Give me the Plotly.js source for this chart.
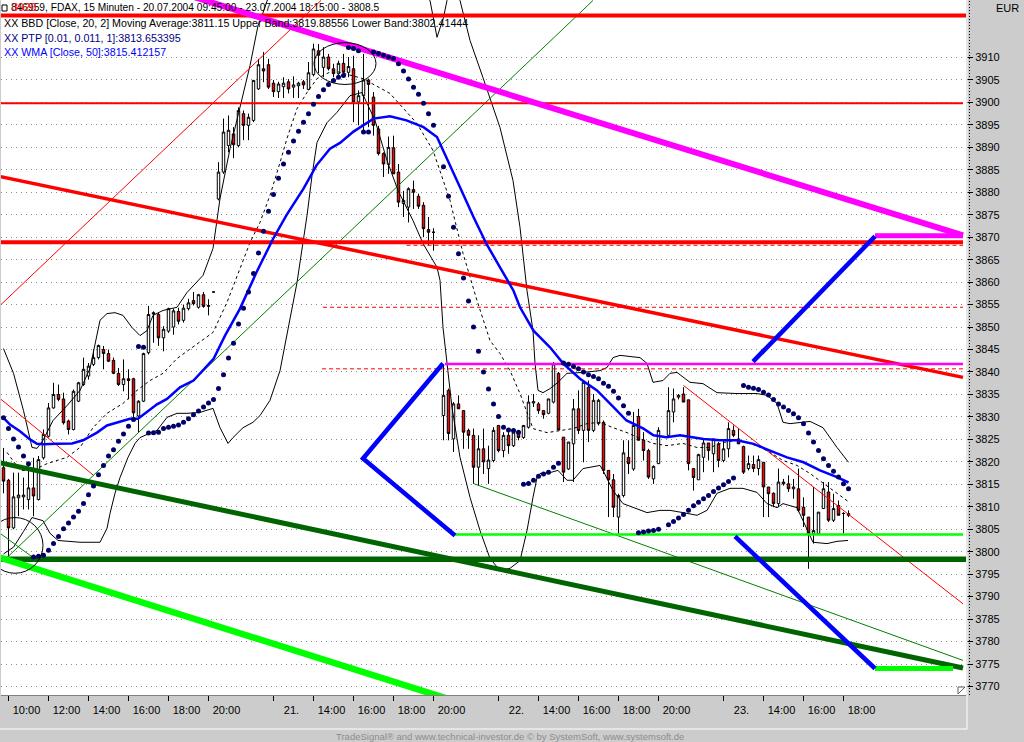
<!DOCTYPE html>
<html><head><meta charset="utf-8">
<script src="https://cdn.plot.ly/plotly-3.0.1.min.js"></script>
<style>html,body{margin:0;padding:0;background:#cccccc;overflow:hidden}#chart{width:1024px;height:742px}</style>
</head><body><div id="chart"></div>
<script>
// ---- OHLC (15-minute bars, index 0 = 20.07.2004 09:45) ----
const openP = [
3818.7,3815.9,3805.3,3812.0,3812.2,3811.6,3814.2,3811.6,3820.9,3825.7,
3832.0,3835.0,3834.0,3829.1,3827.2,3833.5,3837.2,3839.1,3841.7,3843.2,
3845.0,3844.1,3842.6,3839.7,3837.2,3838.5,3838.5,3830.2,3833.5,3844.3,
3853.2,3852.8,3847.6,3849.1,3850.0,3853.5,3851.5,3854.1,3855.9,3854.4,
3857.2,3854.6,3857.8,3878.5,3884.5,3890.4,3893.0,3890.4,3897.5,3894.9,
3896.0,3903.0,3907.5,3908.4,3904.3,3902.4,3903.5,3904.6,3903.4,3903.7,
3904.6,3902.9,3906.2,3911.5,3907.8,3910.1,3907.5,3906.4,3908.7,3906.7,
3907.5,3900.1,3901.5,3905.0,3901.2,3894.1,3888.6,3886.2,3889.9,3884.5,
3877.5,3876.7,3880.6,3879.1,3877.1,3871.7,3871.1,null,3830.3,3835.9,
3825.1,3832.9,3831.4,3827.0,3825.9,3818.8,3822.9,3818.5,3820.3,3828.1,
3822.5,3825.9,3823.6,3826.6,3825.4,3827.7,3833.1,3832.9,3831.4,3830.8,
3833.3,3839.7,3825.5,3818.4,3824.0,3831.8,3827.0,3836.6,3827.0,3828.5,
3828.8,3818.1,3816.0,3807.7,3812.5,3821.0,3818.4,3830.1,3824.8,3822.5,
3816.2,3819.6,null,3825.9,3831.1,3834.4,3835.1,3833.8,3818.5,3816.0,
3821.0,3824.2,3821.8,3824.0,3820.3,3822.9,3827.0,3825.1,3823.4,3818.5,
3819.4,3818.5,3819.9,3814.4,3813.0,3810.7,3815.5,3815.1,3814.0,3814.0,
3809.9,3807.7,3804.0,3804.0,3809.6,3813.3,3807.0,3810.3,3808.5,3808.1];
const highP = [
3823.1,3816.2,3817.6,3817.6,3816.5,3819.0,3820.9,3821.3,3827.2,3833.1,
3837.6,3837.2,3835.4,3829.4,3836.1,3837.8,3843.2,3842.0,3845.0,3846.1,
3845.8,3845.0,3843.2,3840.9,3842.8,3840.6,3838.7,3833.7,3844.3,3854.7,
3853.5,3853.2,3850.2,3854.3,3854.1,3854.3,3855.0,3856.3,3857.8,3857.4,
3857.8,3856.2,3857.8,3886.7,3896.4,3897.1,3894.5,3898.9,3898.2,3897.5,
3904.9,3909.7,3911.2,3909.7,3905.0,3904.6,3905.6,3905.2,3905.8,3904.6,
3905.0,3909.0,3913.1,3913.0,3912.3,3910.8,3908.6,3909.3,3910.8,3910.1,
3910.4,3902.7,3910.8,3905.3,3902.3,3894.8,3888.9,3892.4,3892.6,3886.3,
3880.3,3881.1,3882.6,3879.7,3877.8,3874.5,3872.0,null,3841.5,3836.3,
3833.3,3834.8,3831.4,3827.4,3827.4,3825.9,3827.4,3823.6,3827.7,3828.1,
3826.6,3827.0,3827.4,3827.0,3828.1,3834.8,3835.1,3833.3,3831.4,3834.0,
3842.2,3840.0,3825.5,3824.4,3834.0,3835.9,3838.1,3838.1,3835.1,3834.0,
3829.2,3818.1,3817.3,3812.9,3824.8,3824.8,3831.1,3831.8,3826.6,3822.9,
3819.2,3827.7,null,3836.6,3836.3,3835.1,3836.6,3833.8,3818.5,3821.8,
3825.1,3824.2,3825.1,3824.4,3824.8,3828.8,3828.1,3827.4,3823.6,3821.4,
3821.4,3821.4,3819.9,3814.4,3813.2,3818.5,3816.2,3817.0,3816.2,3818.5,
3812.1,3807.7,3814.4,3808.8,3815.5,3815.5,3812.9,3811.4,3808.8,3809.2];
const lowP = [
3813.0,3799.0,3805.0,3807.9,3809.4,3809.4,3807.9,3811.4,3820.5,3825.4,
3831.8,3833.5,3828.3,3826.1,3827.0,3833.3,3836.9,3838.3,3841.3,3842.8,
3840.6,3842.2,3839.5,3836.9,3835.7,3833.9,3829.8,3826.5,3833.3,3843.9,
3846.5,3845.8,3844.6,3848.7,3848.3,3850.6,3851.0,3853.7,3854.8,3854.1,
3854.3,3852.6,3857.8,3878.2,3884.1,3888.9,3887.6,3890.0,3891.6,3891.6,
3895.6,3902.8,3904.5,3903.0,3901.2,3901.0,3901.0,3902.0,3901.0,3901.0,
3903.0,3902.7,3905.8,3906.5,3905.6,3907.1,3905.6,3905.6,3905.6,3905.6,
3895.6,3894.9,3893.0,3894.5,3892.6,3888.2,3883.4,3884.1,3884.1,3876.7,
3874.5,3873.3,3876.3,3876.3,3870.0,3868.2,3867.0,null,3824.8,3824.8,
3822.2,3831.8,3822.9,3822.9,3815.1,3814.7,3817.3,3815.1,3819.9,3822.1,
3821.0,3821.8,3823.3,3824.8,3825.1,3827.4,3832.2,3830.7,3829.6,3830.6,
3833.0,3827.1,3815.5,3818.2,3815.5,3826.2,3819.9,3824.4,3826.6,3828.1,
3817.3,3807.7,3807.7,3804.0,3812.1,3817.3,3818.0,3824.8,3820.3,3816.2,
3815.1,3819.5,null,3825.8,3828.8,3833.9,3833.3,3818.1,3813.6,3816.0,
3817.7,3820.3,3817.7,3818.8,3819.9,3821.0,3825.5,3824.0,3817.3,3818.1,
3817.7,3817.0,3807.7,3807.7,3809.9,3809.9,3814.7,3813.3,3811.8,3808.8,
3805.5,3796.2,3801.8,3804.0,3809.6,3806.6,3806.6,3808.1,3804.0,3807.7];
const closeP = [
3815.7,3805.3,3812.2,3812.6,3812.6,3814.2,3812.4,3820.5,3826.1,3832.0,
3835.0,3833.9,3828.7,3827.2,3835.7,3837.6,3840.6,3841.3,3843.2,3845.9,
3844.1,3842.4,3839.7,3837.2,3838.5,3838.1,3830.9,3833.5,3844.1,3852.8,
3852.9,3847.6,3849.5,3854.1,3853.6,3851.3,3854.2,3855.4,3855.2,3857.2,
3854.6,3854.8,3857.8,3884.5,3893.4,3893.8,3890.6,3898.2,3894.9,3896.7,
3904.9,3908.4,3907.0,3903.4,3902.4,3904.1,3904.3,3903.0,3903.9,3904.3,
3903.9,3906.6,3911.9,3910.5,3910.1,3907.5,3906.4,3908.7,3906.7,3908.0,
3900.1,3901.5,3905.0,3904.0,3894.9,3888.6,3886.3,3890.0,3884.1,3877.8,
3878.2,3880.8,3880.0,3876.9,3871.9,3871.1,3871.1,null,3834.8,3826.3,
3832.9,3831.8,3826.6,3825.9,3818.8,3822.9,3820.0,3820.4,3827.0,3822.5,
3825.9,3823.6,3826.6,3825.4,3828.1,3833.3,3833.4,3831.4,3830.5,3834.0,
3841.8,3827.1,3817.7,3824.4,3831.8,3827.0,3837.7,3827.0,3833.7,3833.7,
3818.1,3816.0,3809.9,3812.5,3822.0,3819.6,3828.1,3824.8,3822.5,3816.6,
3819.0,3827.0,null,3831.4,3834.0,3834.8,3833.3,3819.6,3816.5,3821.6,
3824.2,3822.5,3825.1,3820.3,3822.9,3827.4,3825.9,3824.0,3817.7,3819.6,
3818.5,3820.5,3814.4,3812.9,3810.7,3815.5,3815.1,3814.0,3814.4,3809.2,
3808.1,3804.0,3804.7,3808.8,3814.0,3807.0,3809.6,3808.1,3808.5,3808.5];

// ---- Parabolic SAR (PTP) per bar ----
const sarP = [
3829.8,3827.4,3825.1,3823.3,3821.3,3819.6,3798.8,3799.0,3799.2,3800.3,
3801.8,3803.4,3805.1,3806.4,3807.7,3809.0,3810.7,3812.7,3814.6,3817.1,
3819.2,3821.3,3822.7,3824.6,3826.2,3827.9,3829.4,3845.7,3845.5,3826.4,
3826.5,3826.6,3827.4,3827.7,3827.9,3828.2,3828.8,3829.6,3830.5,3831.3,
3832.2,3833.1,3833.9,3836.3,3839.4,3843.1,3846.4,3850.7,3854.2,3857.8,
3861.9,3866.5,3871.3,3875.8,3879.5,3883.1,3886.3,3888.9,3891.4,3893.6,
3895.6,3897.5,3899.6,3901.3,3902.8,3904.0,3904.9,3905.6,3906.0,3912.2,
3912.0,3911.5,3893.4,3893.4,3911.2,3910.9,3910.5,3910.1,3909.8,3908.6,
3907.0,3905.2,3903.4,3901.8,3899.8,3897.5,3894.9,null,3885.7,3879.1,
3872.2,3866.3,3860.9,3855.8,3850.0,3844.6,3840.0,3836.2,3832.9,3830.1,
3827.7,3827.1,3827.0,3826.6,3815.0,3815.2,3815.9,3816.8,3817.3,3817.7,
3818.8,3819.7,3842.0,3841.7,3841.2,3840.7,3840.0,3839.4,3839.0,3838.5,
3837.5,3836.8,3835.7,3834.2,3832.5,3830.8,null,3804.2,3804.4,3804.6,
3804.7,3805.0,null,3806.0,3806.7,3807.5,3808.3,3809.2,3810.2,3811.0,
3811.8,3812.5,3813.4,3814.2,3814.9,3815.6,3816.4,null,3837.0,3836.6,
3836.4,3836.1,3835.5,3834.9,3833.9,3832.9,3832.2,3831.4,3830.7,3829.8,
3828.5,3826.4,3824.4,3822.5,3820.7,3819.2,3817.9,3816.6,3815.1,3814.0];

// ---- Bollinger bands (read at bar positions) ----
const bbUpX = [0,2,4,5.7,6.7,7.9,9.9,12.7,15.3,17.3,19.3,20.7,22.3,23.9,25.7,27.3,28.7,29.9,31.9,34.7,
36.7,39.9,41.9,43.3,45.3,47.3,49.3,50.9,51.7,55,60,65,70,75,80,84,85.3,86.7,88,88.7,
90,91.3,93.3,95.9,99.3,101.9,103.3,104.7,105.9,106.3,106.9,107.9,109.3,110.9,112.7,115.9,119.3,120.7,121.9,123.3,
127.3,128.7,129.9,131.9,133.3,134.7,135.9,137.3,139.9,142.7,146.7,150.7,152.7,154.7,155.9,157.3,161.3,163.9,166.7,169];
const bbUpY = [3845.2,3839.7,3831.4,3823.2,3823.0,3824.8,3829.2,3832.5,3835.9,3840.8,3851.5,3853.0,3853.2,3852.6,3849.9,3848.1,3849.2,3852.6,3853.7,3854.4,
3857.7,3861.5,3867.5,3878.6,3889.7,3899.3,3908.2,3917.1,3919.3,3930,3940,3945,3940,3935,3928,3924,3922.7,3914.5,3918.9,3922.7,
3926,3922.7,3913.8,3905.5,3894.4,3882.6,3872.2,3858.1,3849.2,3841.9,3835.9,3835.4,3836.3,3837.7,3839.7,3839.9,3840.3,3841.0,3843.2,3843.7,
3843.2,3841.9,3837.7,3838.1,3839.7,3839.9,3838.8,3837.7,3837.4,3835.4,3835.2,3835.2,3834.8,3833.0,3828.8,3828.5,3829.0,3827.6,3823.2,3819.9];
const bbLoX = [0,2,4,5.7,7.9,9.3,10.9,15.3,19.3,20.7,21.3,22.3,23.3,24.9,26.3,27.3,28.7,30.7,32.7,34.7,
36.7,39.3,41.9,43.3,44.9,45.9,47.9,49.9,51.3,53.3,55.3,56.7,58.7,60.7,61.7,62.7,64.7,66.7,69.3,71.7,
74.3,76.7,78.9,81.9,83.9,86.7,87.3,87.9,88.7,89.7,91.3,93.3,95.3,97.3,99.3,101.3,103.3,104.7,105.9,106.7,
107.3,109.3,110.9,112.7,113.9,115.9,119.3,119.9,120.7,121.9,123.9,125.9,128.7,131.3,133.3,135.9,138.7,140.7,142.7,145.3,
147.9,150.7,152.7,154.7,155.9,158.7,161.3,161.9,164.7,166.7,168.9];
const bbLoY = [3799.5,3801.0,3804.5,3807.6,3806.9,3804.1,3802.5,3802.1,3802.1,3805.2,3808.5,3813.0,3816.5,3821.0,3824.1,3825.4,3826.1,3827.0,3829.9,3830.8,
3830.8,3831.0,3831.9,3827.6,3824.1,3825.4,3827.6,3828.8,3830.3,3833.7,3840.3,3848.1,3859.9,3874.8,3883.7,3891.1,3895.5,3897.8,3901.5,3902.2,
3896.0,3887.1,3880.4,3873.7,3868.6,3863.3,3860.4,3849.9,3842.6,3832.1,3821.0,3812.1,3804.7,3798.5,3795.8,3796.3,3798.0,3804.7,3812.1,3816.5,
3817.4,3817.6,3818.1,3815.9,3815.9,3818.5,3819.2,3818.1,3816.3,3813.6,3810.7,3809.8,3808.7,3809.2,3809.2,3808.7,3808.1,3809.2,3813.0,3814.1,
3814.1,3813.2,3810.7,3809.8,3810.7,3809.8,3803.6,3802.1,3801.8,3802.3,3802.5];
const bbMidX = [0.7,3.3,5.9,8.7,12.7,15.3,17.9,20.7,23.9,26.7,29.3,31.9,34.7,41.9,44.7,47.3,49.3,51.3,53.3,55.3,
56.7,58.7,60.7,62.7,65.9,71.9,77.3,82.7,85.9,89.3,91.9,94.7,97.3,99.3,101.3,103.3,104.7,105.9,108.7,111.3,
113.9,116.7,119.3,121.9,124.7,127.3,129.9,132.7,135.9,138.7,141.3,143.9,146.7,150.7,153.3,155.9,158.7,161.3,163.9,166.7,168.9];
const bbMidY = [3822.1,3818.1,3818.1,3819.6,3821.0,3823.2,3827.6,3830.8,3833.0,3835.9,3838.1,3839.7,3843.0,3848.8,3855.5,3863.0,3868.8,3873.3,3879.3,3886.6,
3892.0,3898.6,3902.2,3905.3,3907.1,3905.3,3902.0,3895.3,3889.3,3878.2,3866.4,3855.9,3847.0,3844.1,3840.3,3835.2,3830.8,3827.4,3826.5,3827.0,
3827.4,3828.5,3828.8,3827.6,3826.5,3825.2,3824.1,3823.6,3824.1,3823.2,3823.2,3824.3,3824.8,3823.6,3822.1,3820.3,3819.2,3817.4,3815.2,3813.0,3811.2];

// ---- WMA(50) ----
const wmaX = [0,1.3,3.3,5.3,6.7,7.9,10.7,13.7,15.9,18.7,20.7,22.7,25.3,26.9,28.7,30.7,32.7,35.3,38,42,
44.3,47.3,50.6,53.9,56.6,60,62.6,65.3,67.3,70,74,77.3,80.6,84,86.7,88.6,91.3,94,96.6,99.3,
102,103.3,106,109.3,112,115.3,118.7,122,124.6,128,130,132.6,135.3,140,143.3,146.7,150,153.3,156.7,160,163.3,166.7,169];
const wmaY = [3829.8,3828.3,3826.8,3825.0,3824.0,3823.9,3824.0,3824.1,3824.8,3826.5,3828.1,3828.8,3829.6,3829.6,3831.1,3832.8,3834.0,3836.6,3838.1,3842.9,
3848.1,3854.1,3862.2,3869.6,3874.9,3880.8,3886.0,3889.7,3891.0,3893.5,3896.4,3896.9,3896.0,3894.5,3892.3,3887.8,3881.1,3874.5,3868.5,3863.3,
3858.1,3854.4,3849.2,3845.5,3841.8,3838.5,3835.9,3832.2,3829.2,3827.4,3825.9,3825.5,3825.9,3825.1,3824.8,3824.8,3824.0,3822.5,3821.0,3819.9,3818.1,3816.6,3815.4];

// ---- Hand-drawn lines (bar index, price) ----
const redTopX=[-1,194], redTopY=[3919.35,3919.35];
const red3900X=[-1,191.9], red3900Y=[3899.8,3899.8];
const red3869X=[-1,191.9], red3869Y=[3868.9,3868.9];
const redDiagX=[-0.7,191.9], redDiagY=[3883.5,3838.8];
const redThinUpX=[-0.7,63.5], redThinUpY=[3854.8,3922.7];
const redThinDnLX=[-0.7,18], redThinDnLY=[3834.1,3817.0];
const redThinDnRX=[136,191.9], redThinDnRY=[3837.0,3788.4];
const redDash1X=[80.6,191.9], redDash1Y=[3868.2,3868.2];
const redDash2X=[63.9,191.9], redDash2Y=[3854.4,3854.4];
const redDash3X=[63.7,191.9], redDash3Y=[3840.7,3840.7];
const magDiagX=[38,191.9], magDiagY=[3923.5,3870.4];
const magShortX=[174.3,191.9], magShortY=[3870.3,3870.3];
const magThinX=[88.3,191.9], magThinY=[3841.8,3841.8];
const blueAX=[90.3,71.9,87.9], blueAY=[3803.6,3820.75,3841.9];
const blueBX=[149.9,174.3], blueBY=[3842.3,3870.2];
const blueCX=[146.3,174.3], blueCY=[3803.4,3774.0];
const dgHorX=[-1,194], dgHorY=[3798.3,3798.3];
const dgDiagX=[-0.7,191.9], dgDiagY=[3819.8,3774.1];
const lgDiagX=[-0.7,89.3], lgDiagY=[3798.7,3767.1];
const lgThinX=[90.3,191.9], lgThinY=[3803.8,3803.8];
const lgShortX=[174.3,189.9], lgShortY=[3774.0,3774.0];
const gThinUpX=[0.7,117.9], gThinUpY=[3798.7,3922.7];
const gThinDnX=[93.9,191.9], gThinDnY=[3815.2,3775.8];
const gThinLX=[-0.7,5.9], gThinLY=[3804.1,3798.7];
const topEllipse=[62.1,74.5,3904.0,3913.3];
const leftEllipse=[-3.3,7.9,3795.2,3807.6];

// ---- axis labels ----
const xTickVals=[1,9,17,25,33,41,54,62,70,78,86,99,107,115,123,131,144,152,160,168];
const xTickText=['10:00','12:00','14:00','16:00','18:00','20:00','21.','14:00','16:00','18:00','20:00','22.','14:00','16:00','18:00','20:00','23.','14:00','16:00','18:00'];
const yTickVals=[3770,3775,3780,3785,3790,3795,3800,3805,3810,3815,3820,3825,3830,3835,3840,3845,3850,3855,3860,3865,3870,3875,3880,3885,3890,3895,3900,3905,3910];

const barIdx = openP.map((_, i) => i);
const F = 'Liberation Sans, Arial, sans-serif';

function ln(x, y, color, width, dash) {
  return {type:'scatter', mode:'lines', x:x, y:y, hoverinfo:'skip',
    line:{color:color, width:width, dash:dash||'solid'}};
}

const traces = [
  ln(bbUpX, bbUpY, '#000000', 1),
  ln(bbLoX, bbLoY, '#000000', 1),
  ln(bbMidX, bbMidY, '#000000', 1, '3px,3px'),
  {type:'candlestick', x:barIdx, open:openP, high:highP, low:lowP, close:closeP,
   increasing:{line:{color:'#000000', width:1}, fillcolor:'#ffffff'},
   decreasing:{line:{color:'#000000', width:1}, fillcolor:'#ff0000'},
   whiskerwidth:0, hoverinfo:'skip'},
  ln(redThinUpX, redThinUpY, '#ff0000', 1),
  ln(redThinDnLX, redThinDnLY, '#ff0000', 1),
  ln(redThinDnRX, redThinDnRY, '#ff0000', 1),
  ln(gThinUpX, gThinUpY, '#008000', 1),
  ln(gThinDnX, gThinDnY, '#008000', 1),
  ln(gThinLX, gThinLY, '#008000', 1),
  ln(redDash1X, redDash1Y, '#ff0000', 1, '4px,3px'),
  ln(redDash2X, redDash2Y, '#ff0000', 1, '4px,3px'),
  ln(redDash3X, redDash3Y, '#ff0000', 1, '4px,3px'),
  ln(redTopX, redTopY, '#ff0000', 4),
  ln(red3900X, red3900Y, '#ff0000', 2),
  ln(red3869X, red3869Y, '#ff0000', 4),
  ln(redDiagX, redDiagY, '#ff0000', 3.5),
  ln(magThinX, magThinY, '#ff00ff', 2.5),
  ln(magDiagX, magDiagY, '#ff00ff', 6),
  ln(magShortX, magShortY, '#ff00ff', 5),
  ln(dgHorX, dgHorY, '#006400', 5.5),
  ln(dgDiagX, dgDiagY, '#006400', 5),
  ln(lgDiagX, lgDiagY, '#00ff00', 6.5),
  ln(lgThinX, lgThinY, '#00ff00', 2.5),
  ln(lgShortX, lgShortY, '#00ff00', 5),
  ln(blueAX, blueAY, '#0000ff', 4.5),
  ln(blueBX, blueBY, '#0000ff', 4.5),
  ln(blueCX, blueCY, '#0000ff', 4.5),
  ln(wmaX, wmaY, '#0000ff', 2.5),
  {type:'scatter', mode:'markers', x:barIdx, y:sarP, hoverinfo:'skip',
   marker:{color:'#000066', size:5, line:{width:0}}}
];

const xp = px => (px - 1) / 965;
const yp = py => 1 - py / 695;

const layout = {
  width:1024, height:742,
  margin:{l:1, r:58, t:0, b:47, pad:0},
  paper_bgcolor:'#cccccc', plot_bgcolor:'#ffffff',
  showlegend:false, dragmode:false,
  font:{family:F, size:11, color:'#000000'},
  xaxis:{range:[-0.5,192.5], tickmode:'array', tickvals:xTickVals, ticktext:xTickText,
    ticks:'outside', ticklen:5, tickcolor:'#000000', tickwidth:1,
    showgrid:false, zeroline:false, showline:true, linecolor:'#808080', linewidth:1,
    ticklabelshift:18, tickfont:{family:F, size:11, color:'#000000'},
    rangeslider:{visible:false}, fixedrange:true},
  yaxis:{side:'right', range:[3768.1,3922.8], tickmode:'array', tickvals:yTickVals,
    ticks:'outside', ticklen:6, tickcolor:'#000000', tickwidth:1,
    showgrid:true, gridcolor:'#8a8a8a', gridwidth:1, griddash:'1px,4px',
    zeroline:false, showline:false, tickfont:{family:F, size:11, color:'#000000'}, fixedrange:true},
  shapes:[
    {type:'circle', xref:'x', yref:'y', x0:topEllipse[0], x1:topEllipse[1], y0:topEllipse[2], y1:topEllipse[3], line:{color:'#000', width:1}},
    {type:'circle', xref:'x', yref:'y', x0:leftEllipse[0], x1:leftEllipse[1], y0:leftEllipse[2], y1:leftEllipse[3], line:{color:'#000', width:1}},
    {type:'line', xref:'paper', yref:'paper', x0:xp(967), x1:xp(967), y0:1, y1:yp(729), line:{color:'#ffffff', width:1}},
    {type:'line', xref:'paper', yref:'paper', x0:xp(0), x1:xp(967), y0:yp(729), y1:yp(729), line:{color:'#ffffff', width:1}},
    {type:'line', xref:'paper', yref:'paper', x0:xp(969.5), x1:xp(969.5), y0:0, y1:1, line:{color:'#000000', width:1, dash:'1px,2px'}},
    {type:'rect', xref:'paper', yref:'paper', x0:xp(2), x1:xp(7), y0:yp(11), y1:yp(5), line:{color:'#000', width:1}, fillcolor:'rgba(0,0,0,0)'},
    {type:'path', xref:'paper', yref:'paper', path:'M '+xp(958)+','+yp(694)+' L '+xp(965)+','+yp(687)+' L '+xp(958)+','+yp(687)+' Z', line:{color:'#606060', width:1}, fillcolor:'#ffffff'}
  ],
  annotations:[
    {xref:'paper', yref:'paper', x:xp(9), y:yp(8), xanchor:'left', yanchor:'middle', showarrow:false,
     text:'846959, FDAX, 15 Minuten - 20.07.2004 09:45:00 - 23.07.2004 18:15:00 - 3808.5', font:{family:F, size:10.2, color:'#000000'}},
    {xref:'paper', yref:'paper', x:xp(10), y:yp(7), xanchor:'left', yanchor:'middle', showarrow:false,
     text:'3920', font:{family:F, size:11, color:'#ff0000'}},
    {xref:'paper', yref:'paper', x:xp(2), y:yp(23), xanchor:'left', yanchor:'middle', showarrow:false,
     text:'XX BBD [Close, 20, 2] Moving Average:3811.15 Upper Band:3819.88556 Lower Band:3802.41444', font:{family:F, size:10.7, color:'#000000'}},
    {xref:'paper', yref:'paper', x:xp(2), y:yp(37.5), xanchor:'left', yanchor:'middle', showarrow:false,
     text:'XX PTP [0.01, 0.011, 1]:3813.653395', font:{family:F, size:10.7, color:'#000080'}},
    {xref:'paper', yref:'paper', x:xp(2), y:yp(52), xanchor:'left', yanchor:'middle', showarrow:false,
     text:'XX WMA [Close, 50]:3815.412157', font:{family:F, size:10.7, color:'#0000ff'}},
    {xref:'paper', yref:'paper', x:xp(1021), y:yp(8), xanchor:'right', yanchor:'middle', showarrow:false,
     text:'EUR', font:{family:F, size:11, color:'#000000'}},
    {xref:'paper', yref:'paper', x:xp(510), y:yp(736), xanchor:'center', yanchor:'middle', showarrow:false,
     text:'TradeSignal® and www.technical-investor.de © by SystemSoft, www.systemsoft.de', font:{family:'Liberation Sans Narrow, Arial Narrow, sans-serif', size:9.5, color:'#8c8c8c'}}
  ]
};

Plotly.newPlot('chart', traces, layout, {displayModeBar:false, staticPlot:true});
</script></body></html>
